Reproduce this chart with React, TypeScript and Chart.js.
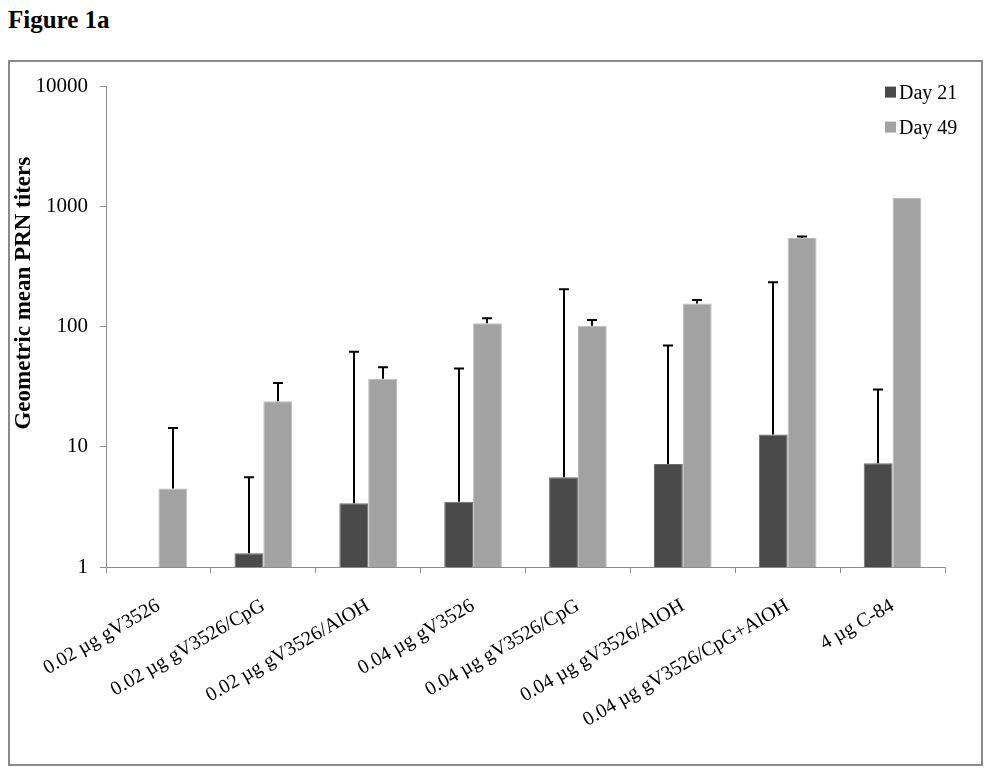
import React, { useEffect, useRef } from "react";
import { Chart, registerables } from "chart.js";

Chart.register(...registerables);

const categories = [
  "0.02 µg gV3526",
  "0.02 µg gV3526/CpG",
  "0.02 µg gV3526/AlOH",
  "0.04 µg gV3526",
  "0.04 µg gV3526/CpG",
  "0.04 µg gV3526/AlOH",
  "0.04 µg gV3526/CpG+AlOH",
  "4 µg C-84",
];
const day21 = [null, 1.3, 3.4, 3.5, 5.6, 7.2, 12.7, 7.3];
const day21Upper = [null, 5.6, 62, 45, 205, 70, 235, 30];
const day49 = [4.5, 24, 37, 107, 102, 156, 548, 1183];
const day49Upper = [14.4, 34, 46, 118, 114, 167, 566, null];
const yTicks = [1, 10, 100, 1000, 10000];
const yTitle = "Geometric mean PRN titers";

const SERIF = "'Liberation Serif', 'Times New Roman', serif";

const errorBarPlugin = {
  id: "errorBars",
  afterDatasetsDraw(chart: any) {
    const ctx = chart.ctx;
    const yScale = chart.scales.y;
    const uppers = [day21Upper, day49Upper];
    chart.data.datasets.forEach((ds: any, di: number) => {
      const meta = chart.getDatasetMeta(di);
      meta.data.forEach((bar: any, i: number) => {
        const up = uppers[di][i];
        const v = ds.data[i];
        if (up == null || v == null) return;
        const x = Math.round(bar.x);
        const yTop = yScale.getPixelForValue(up);
        ctx.save();
        ctx.strokeStyle = "#000";
        ctx.lineWidth = 2;
        ctx.beginPath();
        ctx.moveTo(x, bar.y);
        ctx.lineTo(x, yTop);
        ctx.moveTo(x - 5, yTop);
        ctx.lineTo(x + 5, yTop);
        ctx.stroke();
        ctx.restore();
      });
    });
  },
};

const legendPlugin = {
  id: "cornerLegend",
  afterDraw(chart: any) {
    const ctx = chart.ctx;
    const area = chart.chartArea;
    const left = area.right - 60;
    ctx.save();
    chart.data.datasets.forEach((ds: any, i: number) => {
      const top = area.top + i * 35;
      ctx.fillStyle = ds.backgroundColor;
      ctx.fillRect(left, top, 11, 11);
      ctx.fillStyle = "#000";
      ctx.font = `20px ${SERIF}`;
      ctx.textBaseline = "alphabetic";
      ctx.textAlign = "left";
      ctx.fillText(ds.label, left + 14, top + 12);
    });
    ctx.restore();
  },
};

const yTitlePlugin = {
  id: "yTitle",
  afterDraw(chart: any) {
    const ctx = chart.ctx;
    const area = chart.chartArea;
    const cy = area.top + (area.bottom - area.top) * 0.43;
    ctx.save();
    ctx.translate(14, cy);
    ctx.rotate(-Math.PI / 2);
    ctx.fillStyle = "#000";
    ctx.font = `bold 23px ${SERIF}`;
    ctx.textAlign = "center";
    ctx.textBaseline = "middle";
    ctx.fillText(yTitle, 0, 0);
    ctx.restore();
  },
};

export default function App() {
  const ref = useRef<HTMLCanvasElement | null>(null);

  useEffect(() => {
    if (!ref.current) return;
    const chart = new Chart(ref.current, {
      type: "bar",
      data: {
        labels: categories,
        datasets: [
          {
            label: "Day 21",
            data: day21 as any,
            backgroundColor: "#4a4a4a",
            borderColor: "#6a6a6a",
            borderWidth: 1,
            categoryPercentage: 0.55,
            barPercentage: 1.0,
          },
          {
            label: "Day 49",
            data: day49 as any,
            backgroundColor: "#a2a2a2",
            borderColor: "#bdbdbd",
            borderWidth: 1,
            categoryPercentage: 0.55,
            barPercentage: 1.0,
          },
        ],
      },
      options: {
        animation: false,
        responsive: false,
        maintainAspectRatio: false,
        layout: { padding: { left: 0, right: 36, top: 23, bottom: 0 } },
        plugins: {
          legend: { display: false },
          tooltip: { enabled: false },
        },
        scales: {
          x: {
            type: "category",
            offset: true,
            grid: {
              display: true,
              drawOnChartArea: false,
              drawTicks: true,
              tickLength: 6,
              color: "#8c8c8c",
              offset: true,
            },
            border: { display: true, color: "#8c8c8c", width: 1 },
            ticks: {
              minRotation: 30,
              maxRotation: 30,
              autoSkip: false,
              color: "#000",
              padding: 21,
              font: { family: SERIF, size: 20 },
            },
            afterFit: (s: any) => {
              s.height = 197;
            },
          },
          y: {
            type: "logarithmic",
            min: 1,
            max: 10000,
            grid: {
              display: true,
              drawOnChartArea: false,
              drawTicks: true,
              tickLength: 6,
              color: "#8c8c8c",
            },
            border: { display: true, color: "#8c8c8c", width: 1 },
            afterBuildTicks: (s: any) => {
              s.ticks = yTicks.map((v) => ({ value: v }));
            },
            ticks: {
              color: "#000",
              padding: 12,
              font: { family: SERIF, size: 21 },
              callback: (v: any) => String(v),
            },
            afterFit: (s: any) => {
              s.width = 96;
            },
          },
        },
      },
      plugins: [errorBarPlugin, legendPlugin, yTitlePlugin],
    });
    return () => chart.destroy();
  }, []);

  return (
    <div style={{ position: "relative", width: 991, height: 768 }}>
      <div
        style={{
          position: "absolute",
          left: 0,
          top: -2,
          fontFamily: SERIF,
          fontWeight: "bold",
          fontSize: 25,
          color: "#000",
        }}
      >
        Figure 1a
      </div>
      <div
        style={{
          position: "absolute",
          left: 0,
          top: 52,
          width: 971,
          height: 702,
          border: "2px solid #8a8a8a",
        }}
      >
        <canvas ref={ref} width={971} height={702} style={{ display: "block" }} />
      </div>
    </div>
  );
}
